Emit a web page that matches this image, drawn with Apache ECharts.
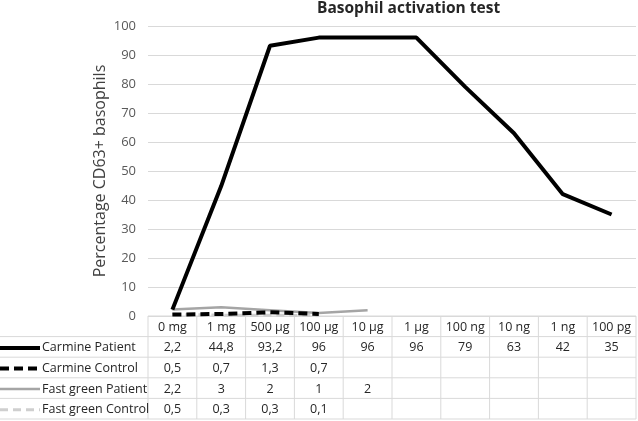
<!DOCTYPE html>
<html><head><meta charset="utf-8">
<script src="https://cdn.jsdelivr.net/npm/echarts@6/dist/echarts.min.js"></script>
<style>html,body{margin:0;padding:0;background:#fff}#c{width:638px;height:421px}</style>
</head><body><div id="c"></div>
<script>
const categories = ['0 mg','1 mg','500 µg','100 µg','10 µg','1 µg','100 ng','10 ng','1 ng','100 pg'];
const carminePatient = [2.2,44.8,93.2,96,96,96,79,63,42,35];
const carmineControl = [0.5,0.7,1.3,0.7];
const fastGreenPatient = [2.2,3,2,1,2];
const fastGreenControl = [0.5,0.3,0.3,0.1];
const seriesNames = ['Carmine Patient','Carmine Control','Fast green Patient','Fast green Control'];
const seriesData = [carminePatient, carmineControl, fastGreenPatient, fastGreenControl];
const seriesStyles = [
  {color:'#000000', width:4, type:'solid'},
  {color:'#000000', width:4, type:[9,5]},
  {color:'#a5a5a5', width:2.5, type:'solid'},
  {color:'#cfcfcf', width:3, type:[8,5]}
];
const FONT = '"Open Sans", "Noto Sans", sans-serif';
const chart = echarts.init(document.getElementById('c'));
chart.setOption({
  animation:false,
  title:{text:'Basophil activation test', left:317, top:1, padding:0,
    textStyle:{fontFamily:FONT, fontSize:15.5, fontWeight:'bold', color:'#262626'}},
  grid:{left:148, right:2, top:26, bottom:105},
  xAxis:{type:'category', data:categories, boundaryGap:true,
    axisLine:{show:false}, axisTick:{show:false}, axisLabel:{show:false}},
  yAxis:{type:'value', min:0, max:100, interval:10,
    name:'Percentage CD63+ basophils', nameLocation:'middle', nameGap:40, nameMoveOverlap:false,
    nameTextStyle:{fontFamily:FONT, fontSize:16, color:'#404040'},
    axisLine:{show:false}, axisTick:{show:false},
    axisLabel:{fontFamily:FONT, fontSize:13, color:'#595959', margin:12},
    splitLine:{lineStyle:{color:'#d9d9d9', width:1}}},
  series: seriesNames.map((n,i)=>({
    name:n, type:'line', data:seriesData[i], symbol:'none', smooth:false,
    lineStyle:{color:seriesStyles[i].color, width:seriesStyles[i].width, type:seriesStyles[i].type},
    z: 10 - i
  }))
});

(function(){
  const xa = chart.convertToPixel({xAxisIndex:0}, 0);
  const xb = chart.convertToPixel({xAxisIndex:0}, 1);
  const step = xb - xa;
  const tLeft = xa - step/2;
  const tRight = tLeft + step*categories.length;
  const tTop = chart.convertToPixel({yAxisIndex:0}, 0);
  const rowH = 20.6;
  const g = [];
  const lineC = '#d9d9d9';
  g.push({type:'line', shape:{x1:tLeft,y1:tTop,x2:tRight,y2:tTop}, style:{stroke:lineC,lineWidth:1}});
  for (let r=1;r<=seriesNames.length+1;r++){
    const y = tTop + rowH*r;
    g.push({type:'line', shape:{x1:0,y1:y,x2:tRight,y2:y}, style:{stroke:lineC,lineWidth:1}});
  }
  for (let c=0;c<=categories.length;c++){
    const x = tLeft + step*c;
    g.push({type:'line', shape:{x1:x,y1:tTop,x2:x,y2:tTop+rowH*(seriesNames.length+1)}, style:{stroke:lineC,lineWidth:1}});
  }
  const txt = (x,y,t,align)=>({type:'text', x:x, y:y, style:{text:t, fill:'#262626', fontFamily:FONT, fontSize:12.5, textAlign:align||'center', textVerticalAlign:'middle'}});
  categories.forEach((c,i)=>{
    g.push(txt(chart.convertToPixel({xAxisIndex:0}, i), tTop+rowH/2+1, c));
  });
  seriesNames.forEach((n,r)=>{
    const yc = tTop + rowH*(r+1) + rowH/2 + 1;
    const st = seriesStyles[r];
    g.push({type:'line', shape:{x1:0,y1:yc,x2:40,y2:yc}, style:{stroke:st.color, lineWidth:st.width, lineDash: st.type==='solid'?null:st.type}});
    g.push(txt(42, yc, n, 'left'));
    seriesData[r].forEach((v,i)=>{
      g.push(txt(chart.convertToPixel({xAxisIndex:0}, i), yc, String(v).replace('.', ',')));
    });
  });
  chart.setOption({graphic:{elements:g}});
})();
</script></body></html>
